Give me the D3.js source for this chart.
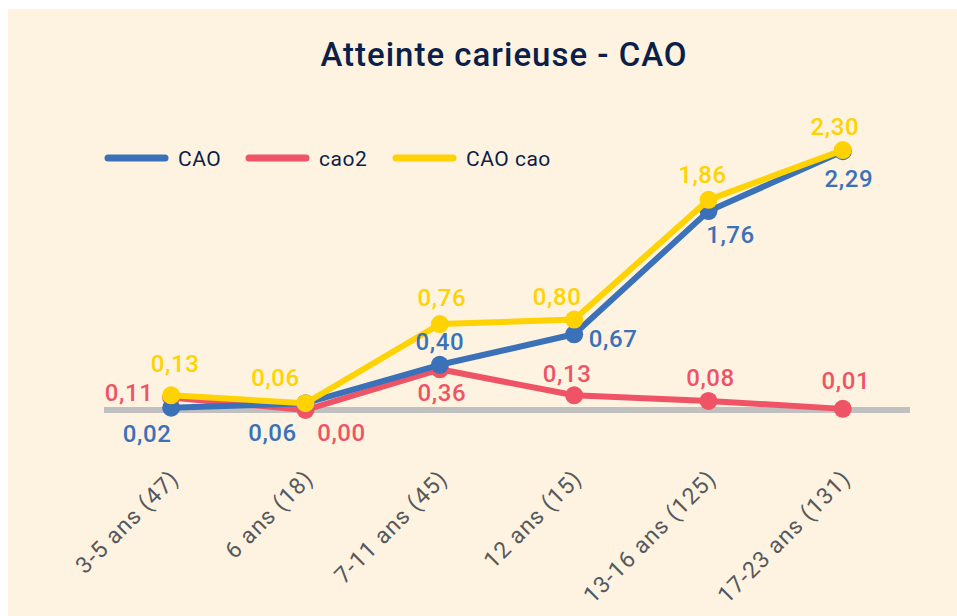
<!DOCTYPE html>
<html>
<head>
<meta charset="utf-8">
<script src="https://cdn.jsdelivr.net/npm/d3@7"></script>
<style>
  html, body { margin: 0; padding: 0; background: #ffffff; }
  svg { display: block; font-family: Roboto, "Noto Sans", sans-serif; }
</style>
</head>
<body>
<svg id="chart" width="957" height="616"></svg>
<script>
// Age groups (sample size in brackets)
const categories = ["3-5 ans (47)", "6 ans (18)", "7-11 ans (45)", "12 ans (15)", "13-16 ans (125)", "17-23 ans (131)"];

// Mean values per series
const caoValues    = [0.02, 0.06, 0.40, 0.67, 1.76, 2.29];
const cao2Values   = [0.11, 0.00, 0.36, 0.13, 0.08, 0.01];
const caoCaoValues = [0.13, 0.06, 0.76, 0.80, 1.86, 2.30];

const seriesNames = ["CAO", "cao2", "CAO cao"];

// Styling and label placement (offset of each value label from its point)
const colors = { "CAO": "#3b71b8", "cao2": "#ef5466", "CAO cao": "#fed203" };
const labelOffsets = {
  "CAO":     [[-24, 34], [-33, 38], [0, -15], [39, 13], [22, 32], [6, 36]],
  "cao2":    [[-42, 3], [36, 31], [2, 32], [-7, -13], [2, -15], [3, -20]],
  "CAO cao": [[4, -23], [-30, -17], [2, -18], [-17, -15], [-6, -17], [-8, -15]]
};

const series = [
  { name: "CAO", values: caoValues },
  { name: "cao2", values: cao2Values },
  { name: "CAO cao", values: caoCaoValues }
];

const fmt = v => d3.format(".2f")(v).replace(".", ",");

const svg = d3.select("#chart");

// Panel background
svg.append("rect")
  .attr("x", 8).attr("y", 9)
  .attr("width", 957 - 8).attr("height", 616 - 9)
  .attr("fill", "#fef3e0");

// Title
svg.append("text")
  .attr("x", 504).attr("y", 66)
  .attr("text-anchor", "middle")
  .attr("font-size", 33)
  .attr("font-weight", 500)
  .attr("letter-spacing", 1)
  .attr("fill", "#0c1e4a")
  .text("Atteinte carieuse - CAO");

// Scales
const x = d3.scaleBand().domain(categories).range([104, 910]).padding(0);
const cx = c => x(c) + x.bandwidth() / 2;
const y = d3.scaleLinear().domain([0, 2.5]).range([410, 410 - 113 * 2.5]);

// Category axis: baseline and rotated labels
const xAxis = d3.axisBottom(x).tickSize(0).tickPadding(0);
const axisG = svg.append("g").attr("transform", `translate(0,${y(0)})`).call(xAxis);
axisG.select(".domain").remove();
axisG.selectAll(".tick text")
  .attr("font-family", "Roboto, sans-serif")
  .attr("font-size", 23)
  .attr("font-weight", 400)
  .attr("letter-spacing", 1)
  .attr("fill", "#55595e")
  .attr("text-anchor", "end")
  .attr("dy", 0)
  .attr("transform", "translate(9,70) rotate(-45)");

svg.append("line")
  .attr("x1", x.range()[0]).attr("x2", x.range()[1])
  .attr("y1", y(0)).attr("y2", y(0))
  .attr("stroke", "#c0c0c0").attr("stroke-width", 6);

// Lines and markers; draw order: cao2, CAO, CAO cao
const drawOrder = ["cao2", "CAO", "CAO cao"];
const line = d3.line()
  .x((d, i) => cx(categories[i]))
  .y(d => y(d));

drawOrder.forEach(name => {
  const s = series.find(d => d.name === name);
  const g = svg.append("g");
  g.append("path")
    .datum(s.values)
    .attr("d", line)
    .attr("fill", "none")
    .attr("stroke", colors[name])
    .attr("stroke-width", 6)
    .attr("stroke-linejoin", "round");
  g.selectAll("circle")
    .data(s.values)
    .join("circle")
    .attr("cx", (d, i) => cx(categories[i]))
    .attr("cy", d => y(d))
    .attr("r", 9)
    .attr("fill", colors[name]);
});

// Value labels
series.forEach(s => {
  svg.append("g").selectAll("text")
    .data(s.values)
    .join("text")
    .attr("x", (d, i) => cx(categories[i]) + labelOffsets[s.name][i][0])
    .attr("y", (d, i) => y(d) + labelOffsets[s.name][i][1])
    .attr("text-anchor", "middle")
    .attr("font-size", 24)
    .attr("font-weight", 500)
    .attr("letter-spacing", 0.6)
    .attr("fill", colors[s.name])
    .text(d => fmt(d));
});

// Legend
const legendItems = [
  { name: "CAO", x: 105 },
  { name: "cao2", x: 246 },
  { name: "CAO cao", x: 393 }
];
const legend = svg.append("g");
legendItems.forEach(item => {
  legend.append("line")
    .attr("x1", item.x + 3).attr("x2", item.x + 60)
    .attr("y1", 158).attr("y2", 158)
    .attr("stroke", colors[item.name])
    .attr("stroke-width", 7)
    .attr("stroke-linecap", "round");
  legend.append("text")
    .attr("x", item.x + 73).attr("y", 166)
    .attr("font-size", 21)
    .attr("letter-spacing", 0.5)
    .attr("fill", "#0c1e4a")
    .text(item.name);
});
</script>
</body>
</html>
